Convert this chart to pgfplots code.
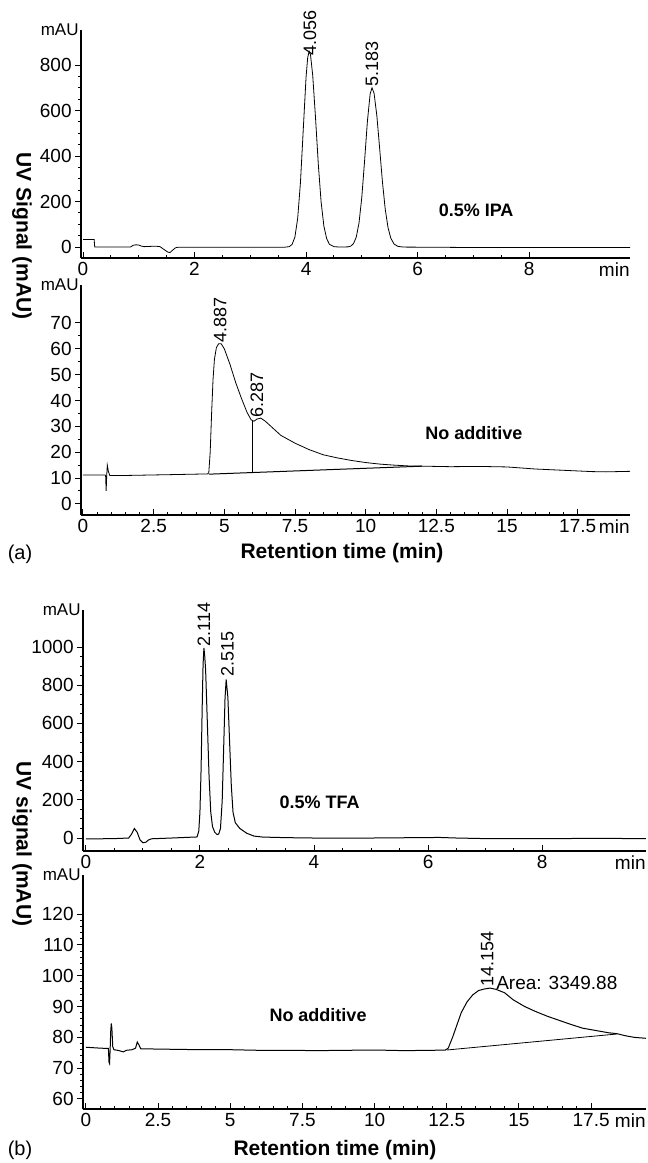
\documentclass[border=0pt]{standalone}
\usepackage{fontspec}
\setmainfont{Liberation Sans}
\usepackage{pgfplots}
\pgfplotsset{compat=1.18}

\pgfplotsset{
  chrom/.style={
    scale only axis, anchor=south west, clip=false,
    axis x line*=bottom, axis y line*=left,
    axis line style={-, line width=0.7pt},
    xtick align=inside, ytick align=outside,
    major tick length=3pt, minor tick length=1.6pt,
    every tick/.style={black, line width=0.5pt},
    tick label style={font=\fontsize{9.5}{11}\selectfont},
    xticklabel style={inner sep=2pt},
    yticklabel style={inner sep=1.5pt},
    /pgf/number format/assume math mode=true,
    /pgf/number format/1000 sep={},
    cycle list={{black, line width=0.6pt}},
    every axis plot/.append style={no markers},
  },
}
\tikzset{
  pk/.style={rotate=90, anchor=west, inner sep=0.5pt, font=\fontsize{9}{10}\selectfont},
  tag/.style={font=\bfseries\fontsize{9}{10}\selectfont},
}
\newcommand{\mau}{\node[anchor=east, inner sep=1pt, font=\fontsize{8.5}{9}\selectfont] at (rel axis cs:0,1) {mAU};}
\newcommand{\mins}{\node[anchor=north east, inner sep=2pt, xshift=2pt, font=\fontsize{9.5}{11}\selectfont] at (rel axis cs:1,0) {\vphantom{0}min};}

\begin{document}
\begin{tikzpicture}
\path[use as bounding box] (0,0) rectangle (324pt,-581.5pt);

% (a) 0.5% IPA
\begin{axis}[chrom, at={(40.5pt,-129pt)}, width=274.5pt, height=114pt,
  xmin=-0.036, xmax=9.81, ymin=-48, ymax=954,
  xtick={0,2,4,6,8}, minor x tick num=3,
  ytick={0,200,400,600,800}, minor y tick num=3]
\addplot coordinates {
(0,33) (0.2,33) (0.21,0) (0.85,0) (0.9,8) (0.95,10) (1.0,9) (1.05,4) (1.1,2)
(1.2,3) (1.3,4) (1.38,2) (1.45,-10) (1.52,-22) (1.56,-24) (1.6,-15) (1.66,-3)
(1.7,-1) (2.0,-1) (3.0,-1) (3.6,-1) (3.70,2) (3.75,12) (3.80,44) (3.85,126)
(3.90,285) (3.95,516) (4.00,746) (4.03,834) (4.056,860) (4.08,845) (4.12,754)
(4.17,568) (4.22,364) (4.27,199) (4.32,92) (4.37,37) (4.42,12) (4.50,2) (4.6,0)
(4.75,1) (4.80,4) (4.85,15) (4.90,43) (4.95,106) (5.00,219) (5.05,379) (5.10,551)
(5.15,674) (5.183,700) (5.22,676) (5.27,577) (5.32,434) (5.37,287) (5.42,167)
(5.47,86) (5.52,39) (5.58,13) (5.65,3) (5.75,0) (6.5,-1) (7.0,-2) (9.81,-2)
};
\node[pk] at (axis cs:4.07,835) {4.056};
\node[pk] at (axis cs:5.183,700) {5.183};
\node[tag] at (axis cs:7.05,163) {0.5\% IPA};
\mau \mins
\end{axis}

% (a) no additive
\begin{axis}[chrom, at={(40.5pt,-257.5pt)}, width=274.5pt, height=115pt,
  xmin=-0.07, xmax=19.35, ymin=-4.3, ymax=84.7,
  xtick={0,2.5,5,7.5,10,12.5,15,17.5}, minor x tick num=4,
  ytick={0,10,20,30,40,50,60,70}, minor y tick num=1]
\addplot coordinates {
(0,11.2) (0.78,11.2) (0.8,11) (0.82,5) (0.84,11) (0.86,15) (0.9,12.5) (0.95,11)
(1.5,11) (3,11.3) (4.4,11.6) (4.45,12) (4.5,20) (4.55,35) (4.6,48) (4.65,56)
(4.72,60.5) (4.8,62) (4.887,62) (5.0,60) (5.2,54) (5.4,47) (5.6,41) (5.8,35.5)
(5.95,32.5) (6.05,32) (6.15,32.8) (6.287,33.2) (6.45,32) (6.7,29.5) (7.0,26.5)
(7.5,23.5) (8.0,21) (8.5,19) (9.0,17.8) (9.5,16.8) (10.0,16) (10.5,15.4)
(11.0,15) (11.5,14.7) (12,14.6) (13,14.4) (14,14.5) (15,14.3) (16,13.5)
(17,13) (18,12.5) (18.5,12.4) (19.35,12.6)
};
\addplot[black, line width=0.5pt] coordinates {(4.45,11.5) (12,14.6)};
\addplot[black, line width=0.5pt] coordinates {(6.0,12.1) (6.0,32.2)};
\node[pk] at (axis cs:4.85,62) {4.887};
\node[pk] at (axis cs:6.15,33) {6.287};
\node[tag] at (axis cs:13.83,27.5) {No additive};
\mau \mins
\end{axis}

% (b) 0.5% TFA
\begin{axis}[chrom, at={(41.5pt,-425.5pt)}, width=281.5pt, height=120.5pt,
  xmin=-0.05, xmax=9.82, ymin=-68, ymax=1194,
  xtick={0,2,4,6,8}, minor x tick num=3,
  ytick={0,200,400,600,800,1000}, minor y tick num=3]
\addplot[black, line width=0.5pt] coordinates {
(0,-5) (0.5,-3) (0.75,0) (0.8,20) (0.85,50) (0.9,30) (0.95,-10) (1.0,-25)
(1.05,-22) (1.1,-10) (1.15,-4) (1.5,0) (1.9,5) (1.93,5) (1.95,6) (1.98,37)
(2.0,135) (2.02,358) (2.04,690) (2.055,908) (2.07,995) (2.085,950) (2.10,878)
(2.13,604) (2.16,323) (2.19,135) (2.22,60) (2.26,30) (2.30,18) (2.33,21)
(2.36,50) (2.39,192) (2.42,514) (2.44,732) (2.46,830) (2.49,737) (2.52,504)
(2.55,275) (2.58,135) (2.62,80) (2.7,50) (2.82,25) (2.95,10) (3.1,5) (3.5,2)
(4.0,0) (5.0,0) (6.2,3) (6.5,0) (7,-3) (8,-3) (9,-2) (9.82,-3)
};
\node[pk] at (axis cs:2.07,995) {2.114};
\node[pk] at (axis cs:2.48,836) {2.515};
\node[tag] at (axis cs:4.1,188) {0.5\% TFA};
\mau \mins
\end{axis}

% (b) no additive
\begin{axis}[chrom, at={(41.5pt,-554.5pt)}, width=281.5pt, height=117pt,
  xmin=-0.1, xmax=19.4, ymin=56.75, ymax=132.7,
  xtick={0,2.5,5,7.5,10,12.5,15,17.5}, minor x tick num=4,
  ytick={60,70,80,90,100,110,120}, minor y tick num=4]
\addplot[black, line width=0.5pt] coordinates {
(0,76.8) (0.5,76.5) (0.78,76.4) (0.8,72) (0.82,71.5) (0.84,76) (0.86,82)
(0.88,84.5) (0.9,83) (0.93,77) (0.97,76) (1.1,75.8) (1.3,75.3) (1.4,75.8)
(1.6,76) (1.72,76.5) (1.78,78.5) (1.84,77.5) (1.9,76.3) (2.5,76.2) (4,76)
(5,76) (6,75.8) (7,75.8) (8,75.7) (9,75.8) (10,75.9) (11,75.7) (12,75.8)
(12.45,75.9) (12.55,76.5) (12.7,80) (12.85,84) (13,88) (13.2,91.5) (13.4,93.8)
(13.6,95.2) (13.8,95.7) (14.0,96) (14.2,95.6) (14.5,94.5) (14.8,92.2)
(15.2,90) (15.6,88.3) (16.0,86.8) (16.4,85.5) (16.8,84.2) (17.2,83)
(17.5,82.5) (17.8,82) (18.1,81.5) (18.4,81.2) (18.7,80.5) (19.0,80) (19.4,79.7)
};
\addplot[black, line width=0.4pt] coordinates {(12.5,75.9) (18.4,81.1)};
\node[pk] at (axis cs:13.9,96) {14.154};
\node[anchor=west, inner sep=0pt, font=\fontsize{9.5}{11}\selectfont] at (axis cs:14.2,97.5) {Area: 3349.88};
\node[tag] at (axis cs:8.04,87.3) {No additive};
\mau \mins
\end{axis}

% outer labels
\node[rotate=-90, font=\bfseries\fontsize{10.5}{12}\selectfont] at (11pt,-118pt) {UV Signal (mAU)};
\node[font=\bfseries\fontsize{10.5}{12}\selectfont] at (171pt,-276.5pt) {Retention time (min)};
\node[font=\fontsize{10}{12}\selectfont] at (10pt,-277pt) {(a)};
\node[rotate=-90, font=\bfseries\fontsize{10.5}{12}\selectfont] at (11pt,-422pt) {UV signal (mAU)};
\node[font=\bfseries\fontsize{10.5}{12}\selectfont] at (167.5pt,-575pt) {Retention time (min)};
\node[font=\fontsize{10}{12}\selectfont] at (10pt,-575pt) {(b)};
\end{tikzpicture}
\end{document}
